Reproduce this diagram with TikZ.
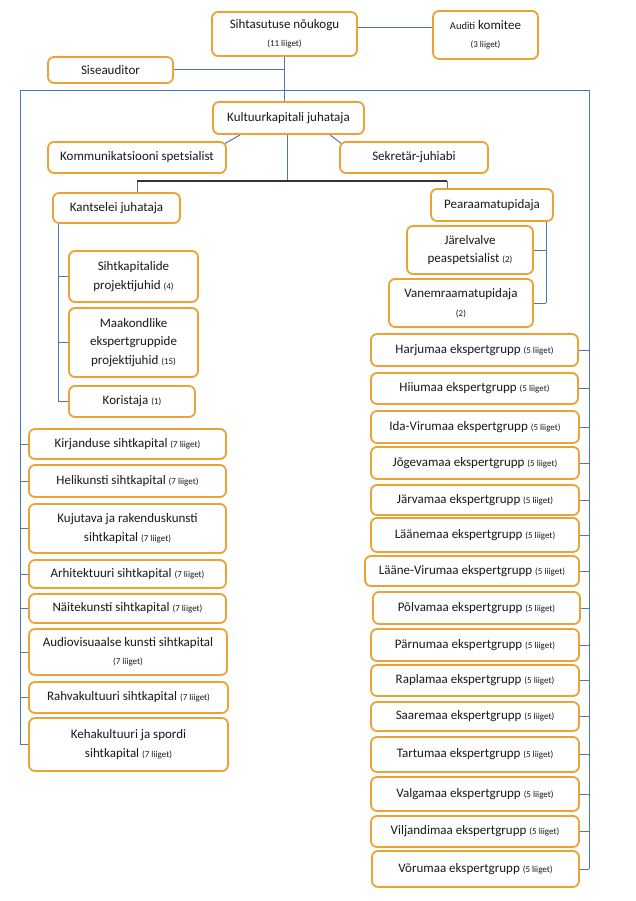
\documentclass[tikz,border=0pt]{standalone}
\usepackage{fontspec}
\setmainfont{Carlito}
\usetikzlibrary{backgrounds}
\definecolor{boxor}{RGB}{236,162,52}
\definecolor{lineblue}{RGB}{79,119,178}
\newcommand\sm[1]{{\fontsize{9}{10}\selectfont #1}}
\newcommand\mybox[6]{\node[bx, minimum width={(#4-#2)*1pt}, minimum height={(#5-#3)*1pt}] (#1) at ({(#2+#4)/2},{(#3+#5)/2}) {#6};}
\tikzset{
  bx/.style={draw=boxor, line width=1.8pt, rounded corners=6pt, fill=white, align=center, inner sep=2pt, font=\fontsize{13}{18.5}\selectfont, text=black!90},
  conn/.style={draw=lineblue, line width=1pt},
  barline/.style={draw=black!80, line width=1.6pt}
}
\begin{document}
\begin{tikzpicture}[x=1pt,y=-1pt]
\useasboundingbox (0,0) rectangle (636,901);
% top
\mybox{sn}{212}{12}{357}{56}{Sihtasutuse nõukogu\\\sm{(11 liiget)}}
\mybox{aud}{433}{11}{538}{59}{{\fontsize{10.5}{12}\selectfont Auditi} komitee\\\sm{(3 liiget)}}
\mybox{sis}{48}{57}{173}{83}{Siseauditor}
\mybox{kj}{213}{102}{364}{134}{Kultuurkapitali juhataja}
\mybox{kom}{48}{142}{226}{173}{Kommunikatsiooni spetsialist}
\mybox{sek}{340}{142}{488}{173}{Sekretär-juhiabi}
% kantselei
\mybox{kants}{53}{193}{180}{223}{Kantselei juhataja}
\mybox{sihtp}{69}{251}{198}{302}{Sihtkapitalide\\projektijuhid \sm{(4)}}
\mybox{maak}{69}{308}{198}{377}{Maakondlike\\ekspertgruppide\\projektijuhid \sm{(15)}}
\mybox{kor}{69}{386}{195}{417}{Koristaja \sm{(1)}}
% pearaamatupidaja
\mybox{pear}{431}{189}{553}{221}{Pearaamatupidaja}
\mybox{jar}{407}{226}{533}{274}{Järelvalve\\peaspetsialist \sm{(2)}}
\mybox{van}{389}{279}{533}{327}{Vanemraamatupidaja\\\sm{(2)}}
% left column
\mybox{kirj}{29}{429}{226}{459}{Kirjanduse sihtkapital \sm{(7 liiget)}}
\mybox{heli}{29}{465}{226}{497}{Helikunsti sihtkapital \sm{(7 liiget)}}
\mybox{kuju}{29}{504}{226}{553}{Kujutava ja rakenduskunsti\\sihtkapital \sm{(7 liiget)}}
\mybox{arhi}{29}{560}{226}{588}{Arhitektuuri sihtkapital \sm{(7 liiget)}}
\mybox{nait}{29}{594}{226}{623}{Näitekunsti sihtkapital \sm{(7 liiget)}}
\mybox{audio}{29}{629}{227}{675}{Audiovisuaalse kunsti sihtkapital\\\sm{(7 liiget)}}
\mybox{rahva}{29}{682}{228}{713}{Rahvakultuuri sihtkapital \sm{(7 liiget)}}
\mybox{keha}{29}{718}{228}{771}{Kehakultuuri ja spordi\\sihtkapital \sm{(7 liiget)}}
% right column
\mybox{harju}{371}{334}{578}{366}{Harjumaa ekspertgrupp \sm{(5 liiget)}}
\mybox{hiiu}{371}{373}{578}{404}{Hiiumaa ekspertgrupp \sm{(5 liiget)}}
\mybox{ida}{371}{411}{579}{443}{Ida-Virumaa ekspertgrupp \sm{(5 liiget)}}
\mybox{joge}{371}{447}{579}{479}{Jõgevamaa ekspertgrupp \sm{(5 liiget)}}
\mybox{jarv}{371}{485}{579}{515}{Järvamaa ekspertgrupp \sm{(5 liiget)}}
\mybox{laane}{371}{518}{579}{552}{Läänemaa ekspertgrupp \sm{(5 liiget)}}
\mybox{lvir}{365}{556}{579}{586}{Lääne-Virumaa ekspertgrupp \sm{(5 liiget)}}
\mybox{polva}{373}{592}{580}{624}{Põlvamaa ekspertgrupp \sm{(5 liiget)}}
\mybox{parnu}{371}{629}{579}{661}{Pärnumaa ekspertgrupp \sm{(5 liiget)}}
\mybox{rapla}{371}{665}{579}{696}{Raplamaa ekspertgrupp \sm{(5 liiget)}}
\mybox{saare}{371}{702}{579}{731}{Saaremaa ekspertgrupp \sm{(5 liiget)}}
\mybox{tartu}{371}{737}{579}{772}{Tartumaa ekspertgrupp \sm{(5 liiget)}}
\mybox{valga}{371}{777}{579}{811}{Valgamaa ekspertgrupp \sm{(5 liiget)}}
\mybox{vilj}{371}{816}{579}{847}{Viljandimaa ekspertgrupp \sm{(5 liiget)}}
\mybox{voru}{372}{851}{579}{887}{Võrumaa ekspertgrupp \sm{(5 liiget)}}
% connectors
\begin{scope}[on background layer]
\coordinate (LT) at (20,91);
\coordinate (RT) at (589,91);
\coordinate (mid) at (287,181);
\coordinate (bl) at (137,181);
\coordinate (br) at (447,181);
\coordinate (kv) at (58,0);
\coordinate (pv) at (546,0);
\draw[conn] (LT |- keha.west) -- (LT) -- (RT) -- (RT |- voru.east);
\draw[conn] (sn.south) -- (sn.south |- kj.north);
\draw[conn] (sis.east) -- (sis.east -| sn.south);
\draw[conn] ([yshift=6pt]sn.east) -- ([yshift=6pt]sn.east -| aud.west);
\draw[conn] ([xshift=28pt]kj.south west) -- ([xshift=-3pt,yshift=-3pt]kom.north east);
\draw[conn] ([xshift=-35pt]kj.south east) -- ([xshift=3pt,yshift=-3pt]sek.north west);
\draw[conn] (mid |- kj.south) -- (mid);
\draw[conn] (bl) -- (bl |- kants.north);
\draw[conn] (br) -- (br |- pear.north);
\draw[barline] (bl) -- (br);
\draw[conn] (kv |- kants.south) -- (kv |- kor.west);
\foreach \n in {sihtp,maak,kor} \draw[conn] (\n.west) -- (\n.west -| kv);
\draw[conn] (pv |- pear.south) -- (pv |- van.east);
\foreach \n in {jar,van} \draw[conn] (\n.east) -- (\n.east -| pv);
\foreach \n in {kirj,heli,kuju,arhi,nait,audio,rahva,keha} \draw[conn] (\n.west) -- (\n.west -| LT);
\foreach \n in {harju,hiiu,ida,joge,jarv,laane,lvir,polva,parnu,rapla,saare,tartu,valga,vilj,voru} \draw[conn] (\n.east) -- (\n.east -| RT);
\end{scope}
\end{tikzpicture}
\end{document}
